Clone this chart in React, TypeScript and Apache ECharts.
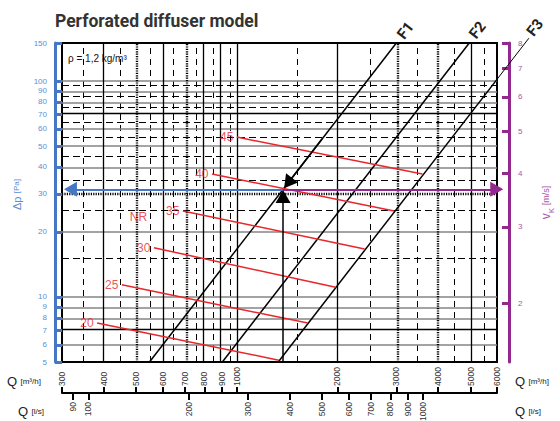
import React, { useEffect, useRef } from 'react';
import * as echarts from 'echarts';

// ---- data ----
const qTicksM3h = [300, 400, 500, 600, 700, 800, 900, 1000, 2000, 3000, 4000, 5000, 6000];
const qTicksLs = [90, 100, 200, 300, 400, 500, 600, 700, 800, 900, 1000];
const dpTicks = [5, 6, 7, 8, 9, 10, 20, 30, 40, 50, 60, 70, 80, 90, 100, 150];
const vTicks = [2, 3, 4, 5, 6, 7, 8];
const qRange = [300, 6000];
const dpRange = [5, 150];
const vRange = [1.4606, 8];

const gridVSolid = [400, 600, 800, 900, 1000, 2000, 5000];
const gridVDotted = [500, 700, 3000, 4000];
const gridVDashed = [350, 450, 550, 650, 750, 850, 950, 1500, 2500, 3500, 4500, 5500];
const gridHGray = [6, 8, 9, 10, 20, 40, 50, 60, 80, 90, 100];
const gridHBlack = [7, 70];
const gridHDotted = [30];
const gridHDashed = [15, 25, 35, 45, 55, 65, 75, 85, 95];

const fNames = ['F1', 'F2', 'F3'];
const fLines = [
  [[548, 5], [3000, 150]],
  [[905, 5], [4957, 150]],
  [[1330, 5], [6000, 101.8]],
];
const f3Extension = [[6000, 101.8], [7472, 157.8]];
const fLabelPos = [[3194, 171.3], [5243, 172.2], [7793, 176.9]];

const nrLevels = [45, 40, 35, 30, 25, 20];
const nrLines = [
  [[1000, 55.0], [3590, 37.1]],
  [[843, 37.1], [2955, 25.0]],
  [[690, 25.0], [2410, 16.7]],
  [[565, 16.9], [1975, 11.1]],
  [[453, 11.4], [1630, 7.57]],
  [[382, 7.57], [1335, 5.1]],
];
const nrTitlePos = [508, 23.45];

const opPoint = [1375, 31.5];
const arrowLeftEndQ = 318;
const arrowRightEndQ = 5990;
const arrowUpEndDp = 29.2;
const arrowDiagStart = [1800, 54];
const arrowDiagEnd = [1423, 33.7];

// ---- styles ----
const FONT = '"Liberation Sans", Arial, sans-serif';
const BLUE = '#4677c4';
const BLUE_L = '#5b8ed6';
const PURPLE = '#93288f';
const PURPLE_L = '#a855a8';
const RED = '#e8262b';

const L = (v: number) => Math.log10(v);
const fmt = (v: number) => String(Math.round(Math.pow(10, v)));

export default function App() {
  const ref = useRef<HTMLDivElement>(null);
  useEffect(() => {
    if (!ref.current) return;
    const chart = echarts.init(ref.current, undefined, { renderer: 'svg' });

    const solidV = { color: '#000', width: 1.3, type: 'solid' };
    const dottedV = { color: '#000', width: 2.4, type: [1.2, 1.2] };
    const dashedV = { color: '#000', width: 1, type: [6, 5] };
    const grayH = { color: '#858585', width: 1.6, type: 'solid' };
    const blackH = { color: '#000', width: 1.3, type: 'solid' };
    const dashedH = { color: '#000', width: 1, type: [7, 4] };

    const gridLines: any[] = [
      ...gridVDashed.map((q) => ({ xAxis: L(q), lineStyle: dashedV })),
      ...gridHDashed.map((p) => ({ yAxis: L(p), lineStyle: dashedH })),
      ...gridHGray.map((p) => ({ yAxis: L(p), lineStyle: grayH })),
      ...gridHBlack.map((p) => ({ yAxis: L(p), lineStyle: blackH })),
      ...gridHDotted.map((p) => ({ yAxis: L(p), lineStyle: dottedV })),
      ...gridVSolid.map((q) => ({ xAxis: L(q), lineStyle: solidV })),
      ...gridVDotted.map((q) => ({ xAxis: L(q), lineStyle: dottedV })),
    ];

    const pt = (p: number[]) => [L(p[0]), L(p[1])];
    const opC = pt(opPoint);

    const arrows: any[] = [
      [
        { coord: opC, symbol: 'none' },
        { coord: [L(arrowLeftEndQ), opC[1]], symbol: 'triangle', symbolSize: [15, 13], lineStyle: { color: BLUE, width: 2, type: 'solid' } },
      ],
      [
        { coord: opC, symbol: 'none' },
        { coord: [L(arrowRightEndQ), opC[1]], symbol: 'triangle', symbolSize: [15, 13], lineStyle: { color: PURPLE, width: 2, type: 'solid' } },
      ],
      [
        { coord: [opC[0], L(dpRange[0])], symbol: 'none' },
        { coord: [opC[0], L(arrowUpEndDp)], symbol: 'triangle', symbolSize: [15, 13], lineStyle: { color: '#000', width: 1.5, type: 'solid' } },
      ],
      [
        { coord: pt(arrowDiagStart), symbol: 'none' },
        { coord: pt(arrowDiagEnd), symbol: 'triangle', symbolSize: [15, 13], lineStyle: { color: '#000', width: 1.5, type: 'solid' } },
      ],
    ];

    const qStyle = (t: string) => ({
      text: t,
      verticalAlign: 'middle',
      fill: '#222',
      fontFamily: FONT,
      rich: { q: { fontSize: 13, fill: '#222' }, u: { fontSize: 8, fill: '#222' } },
    });

    const option: any = {
      animation: false,
      textStyle: { fontFamily: FONT },
      title: {
        text: 'Perforated diffuser model',
        left: 50,
        top: 7,
        textStyle: { fontFamily: 'Roboto, sans-serif', fontSize: 17.5, fontWeight: 'bold', color: '#333' },
      },
      grid: {
        left: 62,
        right: 63,
        top: 43,
        bottom: 59,
        show: true,
        borderColor: '#000',
        borderWidth: 2,
        backgroundColor: 'transparent',
        outerBoundsMode: 'none',
      },
      xAxis: [
        {
          type: 'value',
          min: L(qRange[0]),
          max: L(qRange[1]),
          position: 'bottom',
          offset: 31,
          axisLine: { show: false },
          splitLine: { show: false },
          axisTick: { show: true, inside: true, length: 6, customValues: qTicksM3h.map(L), lineStyle: { color: '#000', width: 2 } },
          axisLabel: { inside: true, rotate: 90, margin: 7, customValues: qTicksM3h.map(L), formatter: fmt, fontSize: 8.5, color: '#333' },
        },
        {
          type: 'value',
          min: L(qRange[0] / 3.6),
          max: L(qRange[1] / 3.6),
          position: 'bottom',
          offset: 31,
          axisLine: { show: true, lineStyle: { color: '#000', width: 2 } },
          splitLine: { show: false },
          axisTick: { show: true, inside: false, length: 7, customValues: qTicksLs.map(L), lineStyle: { color: '#000', width: 2 } },
          axisLabel: { rotate: 90, margin: 9, customValues: qTicksLs.map(L), formatter: fmt, fontSize: 8.5, color: '#333' },
        },
      ],
      yAxis: [
        {
          type: 'value',
          min: L(dpRange[0]),
          max: L(dpRange[1]),
          position: 'left',
          offset: 7,
          axisLine: { show: true, lineStyle: { color: BLUE, width: 3 } },
          splitLine: { show: false },
          axisTick: { show: true, inside: true, length: 7, customValues: dpTicks.map(L), lineStyle: { color: BLUE, width: 3 } },
          axisLabel: { margin: 8, customValues: dpTicks.map(L), formatter: fmt, fontSize: 8, color: BLUE_L },
          name: '{a|Δp} {b|[Pa]}',
          nameLocation: 'middle',
          nameRotate: 90,
          nameGap: 28,
          nameTextStyle: {
            color: BLUE_L,
            padding: [0, 0, 0, 16],
            rich: { a: { fontSize: 11, color: BLUE_L }, b: { fontSize: 8, color: BLUE_L } },
          },
        },
        {
          type: 'value',
          min: L(vRange[0]),
          max: L(vRange[1]),
          position: 'right',
          offset: 12,
          axisLine: { show: true, lineStyle: { color: PURPLE, width: 3 } },
          splitLine: { show: false },
          axisTick: { show: true, inside: true, length: 7, customValues: vTicks.map(L), lineStyle: { color: PURPLE, width: 3 } },
          axisLabel: { margin: 9, customValues: vTicks.map(L), formatter: fmt, fontSize: 8, color: PURPLE_L },
          name: '{v|v}{k|K}{u| [m/s]}',
          nameLocation: 'middle',
          nameRotate: 90,
          nameGap: 28,
          nameTextStyle: {
            color: PURPLE_L,
            rich: {
              v: { fontSize: 12, color: PURPLE_L, lineHeight: 18, verticalAlign: 'middle' },
              k: { fontSize: 8, color: PURPLE_L, lineHeight: 18, verticalAlign: 'bottom' },
              u: { fontSize: 9, color: PURPLE_L, lineHeight: 18, verticalAlign: 'middle' },
            },
          },
        },
      ],
      graphic: [
        { type: 'text', left: 68, top: 53, style: { text: 'ρ = 1,2 kg/m³', fontSize: 10, fill: '#111', fontFamily: FONT } },
        { type: 'text', x: 7, y: 381, style: qStyle('{q|Q} {u|[m³/h]}') },
        { type: 'text', x: 18, y: 411, style: qStyle('{q|Q} {u|[l/s]}') },
        { type: 'text', x: 515, y: 381, style: qStyle('{q|Q} {u|[m³/h]}') },
        { type: 'text', x: 515, y: 411, style: qStyle('{q|Q} {u|[l/s]}') },
      ],
      series: [
        {
          type: 'line',
          name: 'grid',
          data: [],
          silent: true,
          markLine: {
            z: 1,
            silent: true,
            symbol: ['none', 'none'],
            label: { show: false },
            emphasis: { disabled: true },
            data: gridLines,
          },
        },
        ...fLines.map((l, i) => ({
          type: 'line',
          name: fNames[i],
          data: l.map(pt),
          symbol: 'none',
          silent: true,
          z: 3,
          lineStyle: { color: '#000', width: 1.5 },
        })),
        {
          type: 'custom',
          name: 'F3 extension',
          clip: false,
          silent: true,
          z: 3,
          data: [[...pt(f3Extension[0]), ...pt(f3Extension[1])]],
          renderItem: (_p: any, api: any) => {
            const a = api.coord([api.value(0), api.value(1)]);
            const b = api.coord([api.value(2), api.value(3)]);
            return { type: 'line', shape: { x1: a[0], y1: a[1], x2: b[0], y2: b[1] }, style: { stroke: '#000', lineWidth: 1 } };
          },
        },
        {
          type: 'custom',
          name: 'F labels',
          clip: false,
          silent: true,
          z: 6,
          data: fLabelPos.map((p, i) => [...pt(p), i]),
          renderItem: (_p: any, api: any) => {
            const a = api.coord([api.value(0), api.value(1)]);
            return {
              type: 'text',
              x: a[0],
              y: a[1],
              rotation: (52 * Math.PI) / 180,
              style: {
                text: fNames[api.value(2)],
                fontSize: 15,
                fontWeight: 'bold',
                fontFamily: 'Roboto, sans-serif',
                fill: '#222',
                align: 'center',
                verticalAlign: 'middle',
              },
            };
          },
        },
        ...nrLines.map((l, i) => ({
          type: 'line',
          name: 'NR ' + nrLevels[i],
          data: l.map(pt),
          symbol: 'none',
          silent: true,
          z: 4,
          lineStyle: { color: RED, width: 1.5 },
        })),
        {
          type: 'scatter',
          name: 'NR labels',
          clip: false,
          silent: true,
          symbolSize: 1,
          itemStyle: { color: 'transparent' },
          z: 6,
          data: [
            ...nrLines.map((l, i) => ({ value: pt(l[0]), name: String(nrLevels[i]), label: { position: 'left', distance: 3 } })),
            { value: pt(nrTitlePos), name: 'NR', label: { position: 'inside' } },
          ],
          label: { show: true, formatter: '{b}', fontSize: 12, color: RED },
        },
        {
          type: 'line',
          name: 'arrows',
          data: [],
          silent: true,
          clip: false,
          markLine: {
            z: 7,
            silent: true,
            label: { show: false },
            emphasis: { disabled: true },
            data: arrows,
          },
        },
      ],
    };
    chart.setOption(option);
    return () => chart.dispose();
  }, []);
  return <div ref={ref} style={{ position: 'absolute', left: 0, top: 0, width: 560, height: 421 }} />;
}
